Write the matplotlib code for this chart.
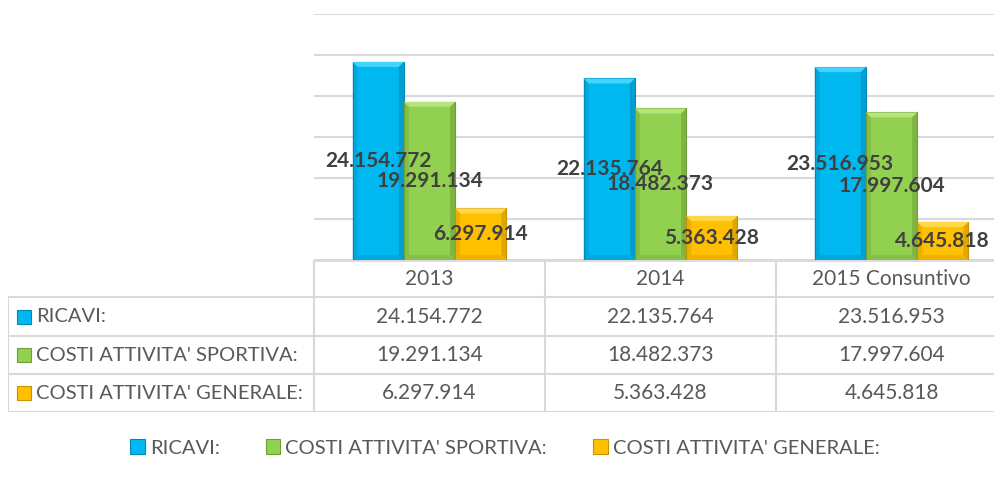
import matplotlib
matplotlib.use("Agg")
import matplotlib.pyplot as plt
from matplotlib.patches import Polygon, Rectangle, Patch
import numpy as np

plt.rcParams['font.family'] = ['Lato', 'DejaVu Sans']

categories = ["2013", "2014", "2015 Consuntivo"]
series = ["RICAVI:", "COSTI ATTIVITA' SPORTIVA:", "COSTI ATTIVITA' GENERALE:"]
ricavi = [24154772, 22135764, 23516953]
costi_sportiva = [19291134, 18482373, 17997604]
costi_generale = [6297914, 5363428, 4645818]

colors = ["#00B8F0", "#92D050", "#FFC000"]
light = ["#40D4FF", "#B4E47A", "#FFD84A"]
dark = ["#0089B8", "#6E9E38", "#C99200"]


def fmt(v):
    return f"{v:,}".replace(",", ".")


W, H = 994, 479
fig = plt.figure(figsize=(W / 100, H / 100), dpi=100)

# plot area in pixels: x 314..1007 (last column runs off the picture), y 14..260
px_l, px_r, px_t, px_b = 314, 1007, 14, 260
ax = fig.add_axes([px_l / W, (H - px_b) / H, (px_r - px_l) / W, (px_b - px_t) / H])
ax.set_xlim(-0.5, 2.5)
ax.set_ylim(0, 30000000)
ax.set_yticks(np.arange(0, 30000001, 5000000))
ax.yaxis.grid(True, color="#D9D9D9", linewidth=1.5)
ax.set_axisbelow(True)
for s in ax.spines.values():
    s.set_visible(False)
ax.tick_params(left=False, bottom=False, labelleft=False, labelbottom=False)

x = np.arange(len(categories))
bw = 0.222
data = [ricavi, costi_sportiva, costi_generale]
bx = 5 / 231 * 1.0          # bevel width in x units (~5 px)
by = 5 / 246 * 30000000     # bevel height in y units (~5 px)

for i, vals in enumerate(data):
    xs = x + (i - 1) * bw
    ax.bar(xs, vals, bw, color=colors[i], edgecolor=dark[i], linewidth=0.8, zorder=2)
    for xc, v in zip(xs, vals):
        l, r = xc - bw / 2, xc + bw / 2
        # top bevel
        ax.add_patch(Polygon([(l, v), (r, v), (r - bx, v - by), (l + bx, v - by)],
                             closed=True, color=light[i], zorder=3, lw=0))
        # side bevels
        ax.add_patch(Polygon([(l, 0), (l, v), (l + bx, v - by), (l + bx, by)],
                             closed=True, color=dark[i], alpha=0.35, zorder=3, lw=0))
        ax.add_patch(Polygon([(r, 0), (r, v), (r - bx, v - by), (r - bx, by)],
                             closed=True, color=dark[i], alpha=0.55, zorder=3, lw=0))
        # bottom bevel
        ax.add_patch(Polygon([(l, 0), (r, 0), (r - bx, by), (l + bx, by)],
                             closed=True, color=dark[i], alpha=0.3, zorder=3, lw=0))
        ax.text(xc, v / 2, fmt(v), ha="center", va="center", fontsize=15,
                fontweight="bold", color="#404040", zorder=5)

# data table drawn in pixel coordinates
tl, tr, tt, tb = 8, 1007, 260, 412
tax = fig.add_axes([tl / W, (H - tb) / H, (tr - tl) / W, (tb - tt) / H])
tax.set_xlim(tl, tr)
tax.set_ylim(tb, tt)
tax.axis("off")
rows_y = [260, 297, 336, 374, 412]
cols_x = [314, 545, 776, 1007]
lc = "#D9D9D9"
tax.plot([314, 1007], [260, 260], color=lc, lw=2)
for yy in rows_y[1:]:
    tax.plot([8, 1007], [yy, yy], color=lc, lw=1.5)
tax.plot([8, 8], [297, 412], color=lc, lw=1.5)
for xx in cols_x[:-1]:
    tax.plot([xx, xx], [260, 412], color=lc, lw=1.5)

tc = "#595959"
fs = 15
fs_lab = 14.5
for j, cat in enumerate(categories):
    cx = (cols_x[j] + cols_x[j + 1]) / 2
    tax.text(cx, (rows_y[0] + rows_y[1]) / 2, cat, ha="center", va="center",
             fontsize=fs, color=tc)
for i, (name, vals) in enumerate(zip(series, data)):
    cy = (rows_y[i + 1] + rows_y[i + 2]) / 2
    tax.add_patch(Rectangle((17, cy - 7), 14, 14, facecolor=colors[i],
                            edgecolor=dark[i], lw=0.8))
    tax.text(36, cy, name, ha="left", va="center", fontsize=fs_lab, color=tc)
    for j, v in enumerate(vals):
        cx = (cols_x[j] + cols_x[j + 1]) / 2
        tax.text(cx, cy, fmt(v), ha="center", va="center", fontsize=fs, color=tc)

handles = [Patch(facecolor=colors[i], edgecolor=dark[i], lw=0.8) for i in range(3)]
fig.legend(handles, series, loc="center", bbox_to_anchor=(0.508, (H - 448) / H),
           ncol=3, frameon=False, fontsize=fs_lab, handlelength=0.72, handleheight=0.72,
           handletextpad=0.25, columnspacing=2.3, labelcolor=tc)

fig.savefig("out.png", dpi=100)
